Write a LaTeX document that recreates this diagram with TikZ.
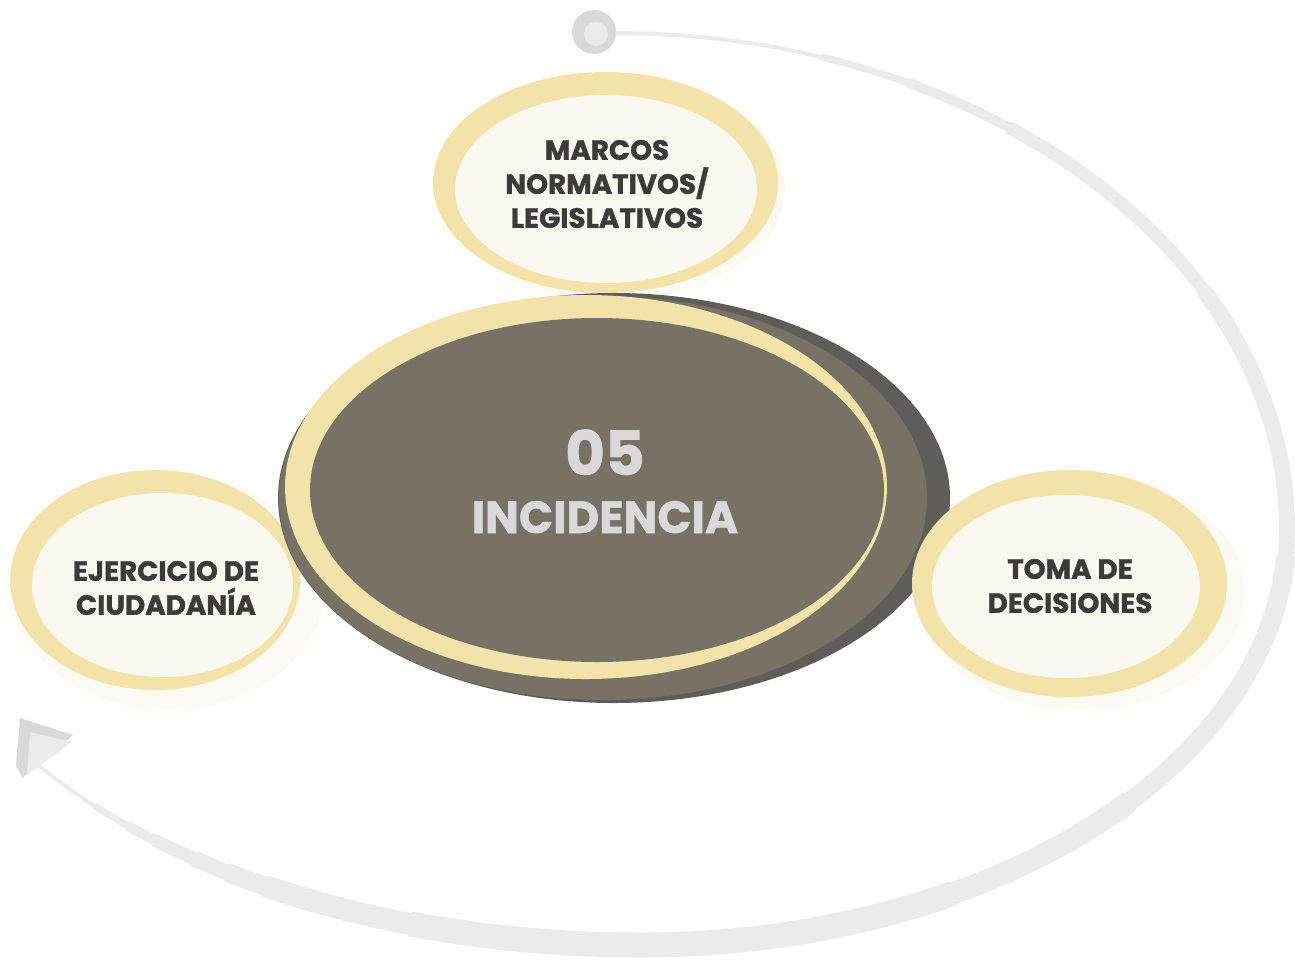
\documentclass[tikz,border=0pt]{standalone}
\usepackage{fontspec}
\setmainfont{Poppins}[BoldFeatures={FakeBold=1.2}]
\usetikzlibrary{shapes.geometric}
\definecolor{ring}{HTML}{F3E3AB}
\definecolor{cream}{HTML}{FAF8EF}
\definecolor{shade}{HTML}{FCFAF3}
\definecolor{core}{HTML}{767366}
\definecolor{coreedge}{HTML}{5E5D5A}
\definecolor{arcgray}{HTML}{EBEBEB}
\definecolor{markgray}{HTML}{D9D9D9}
\definecolor{ink}{HTML}{3B3B39}
\definecolor{coretext}{HTML}{D9D9D9}
\begin{document}
\begin{tikzpicture}[x=1pt,y=-1pt,
  blob/.style={ellipse, inner sep=0pt, draw=none},
  lbl/.style={font=\fontsize{27.8}{34}\selectfont\bfseries, text=ink, align=center, inner sep=0pt},
  arcline/.style={draw=arcgray, line cap=butt},
  arcpath/.style={insert path={(614,33) arc[start angle=-90, end angle=0, x radius=673, y radius=497]
     arc[start angle=0, end angle=90, x radius=647, y radius=415]
     arc[start angle=90, end angle=146, x radius=730, y radius=415]}}
]
\useasboundingbox (0,0) rectangle (1295,959);

% big circular arrow
\draw[arcline, line width=4pt, arcpath];
\draw[arcline, line width=7pt, dash pattern=on 0pt off 209pt on 2130pt off 9000pt, arcpath];
\draw[arcline, line width=10pt, dash pattern=on 0pt off 300pt on 2000pt off 9000pt, arcpath];
\draw[arcline, line width=13pt, dash pattern=on 0pt off 410pt on 1860pt off 9000pt, arcpath];
\draw[arcline, line width=16pt, dash pattern=on 0pt off 666pt on 1560pt off 9000pt, arcpath];
\draw[arcline, line width=19pt, dash pattern=on 0pt off 950pt on 1240pt off 9000pt, arcpath];
\draw[arcline, line width=22pt, dash pattern=on 0pt off 1250pt on 900pt off 9000pt, arcpath];
\draw[arcline, line width=25pt, dash pattern=on 0pt off 1450pt on 550pt off 9000pt, arcpath];

\node[circle, fill=markgray, minimum size=44pt, inner sep=0pt] (start) at (594,32) {};
\node[circle, fill=arcgray, minimum size=24pt, inner sep=0pt] (startin) at (596,34) {};

\coordinate (tip) at (20,718);
\fill[markgray] (tip) -- (73,735) -- (22,778) -- (16,765) -- cycle;
\fill[arcgray] (30,732) -- (72,742) -- (27,775) -- cycle;

% top node
\node[blob, fill=shade, minimum width=346pt, minimum height=226pt] (topshade) at (612,188) {};
\node[blob, fill=ring, minimum width=345pt, minimum height=221pt] (topring) at (605.5,182.5) {};
\node[blob, fill=cream, minimum width=302pt, minimum height=188pt] (topcore) at (606,189) {};
\node[lbl] (top) at (607,184) {MARCOS\\NORMATIVOS/\\LEGISLATIVOS};

% left node
\node[blob, fill=shade, minimum width=310pt, minimum height=236pt] (leftshade) at (168,592) {};
\node[blob, fill=ring, minimum width=290pt, minimum height=220pt] (leftring) at (155,580) {};
\node[blob, fill=cream, minimum width=261pt, minimum height=184pt] (leftcore) at (162.5,585) {};
\node[lbl] (left) at (166,588) {EJERCICIO DE\\CIUDADANÍA};

% center
\node[blob, fill=coreedge, minimum width=672pt, minimum height=410pt] (cedge) at (614,498) {};
\node[blob, fill=core, minimum width=648pt, minimum height=404pt] (cfill) at (603,498) {};
\node[blob, fill=ring, minimum width=602pt, minimum height=384pt] (cring) at (586,487) {};
\node[blob, fill=core, minimum width=574pt, minimum height=344pt] (ccore) at (597,490) {};
\node[font=\fontsize{61}{61}\selectfont\bfseries, text=coretext, anchor=base, inner sep=0pt] (num) at (605,475) {05};
\node[font=\fontsize{45}{45}\selectfont\bfseries, text=coretext, anchor=base, inner sep=0pt] (title) at (605,533) {INCIDENCIA};

% right node
\node[blob, fill=shade, minimum width=330pt, minimum height=236pt] (rightshade) at (1080,592) {};
\node[blob, fill=ring, minimum width=315pt, minimum height=227pt] (rightring) at (1069.5,583.5) {};
\node[blob, fill=cream, minimum width=268pt, minimum height=183pt] (rightcore) at (1066,586.5) {};
\node[lbl] (right) at (1070,586) {TOMA DE\\DECISIONES};
\end{tikzpicture}
\end{document}
